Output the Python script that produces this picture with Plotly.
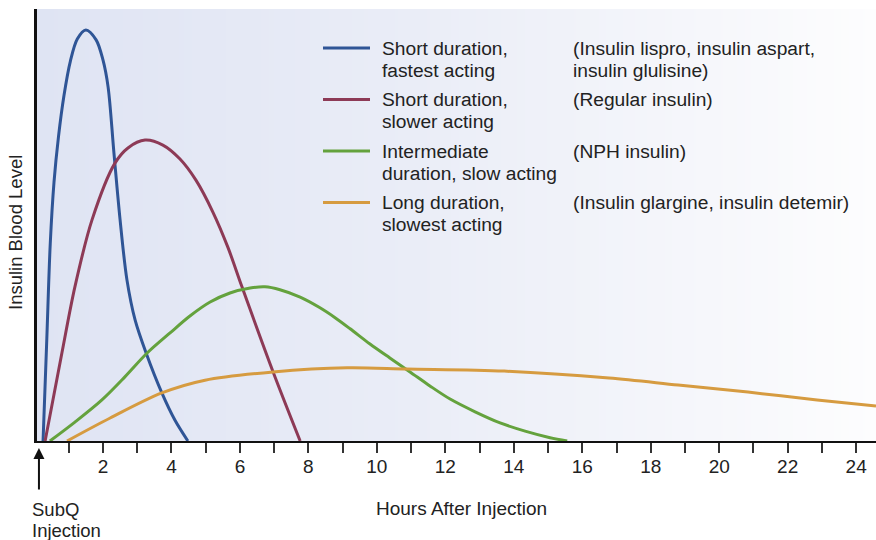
import numpy as np
import plotly.graph_objects as go

# Relative insulin blood level (peak of fastest-acting = 100) vs hours after injection
hours_fastest = [0.25, 0.36, 0.46, 0.57, 0.70, 0.86, 1.05, 1.25, 1.50, 1.80, 2.00, 2.15, 2.32, 2.50, 2.70, 2.94, 3.26, 3.72, 4.10, 4.48]
level_fastest = [0.0, 25.0, 48.0, 63.0, 74.0, 84.0, 92.5, 97.8, 100.0, 97.6, 92.7, 86.1, 70.1, 53.8, 39.2, 29.4, 21.4, 11.7, 5.1, 0.0]

hours_regular = [0.31, 0.80, 1.18, 1.68, 2.35, 2.73, 3.23, 3.75, 4.25, 4.72, 5.21, 5.65, 6.06, 6.97, 7.76]
level_regular = [0.0, 21.4, 37.5, 53.8, 67.6, 71.3, 73.2, 72.0, 68.6, 63.4, 55.7, 47.1, 37.5, 16.8, 0.0]

hours_nph = [0.45, 1.18, 1.97, 2.64, 3.29, 3.96, 4.54, 5.13, 5.71, 6.30, 6.73, 7.17, 7.76, 8.34, 8.78, 9.22,
             9.80, 10.38, 10.97, 11.55, 12.14, 12.87, 13.60, 14.33, 15.06, 15.56]
level_nph = [0.0, 4.6, 10.0, 15.6, 21.4, 26.3, 30.4, 33.8, 36.0, 37.2, 37.5, 36.8, 35.0, 32.4, 30.0, 27.3,
             23.6, 20.2, 16.8, 13.4, 10.2, 7.1, 4.4, 2.4, 0.8, 0.0]

hours_long = [0.95, 2.21, 3.72, 4.98, 6.97, 9.13, 10.88, 13.72, 16.78, 18.80, 20.84, 22.86, 24.58]
level_long = [0.0, 5.6, 11.7, 14.8, 16.8, 17.8, 17.5, 17.0, 15.3, 13.6, 11.9, 10.0, 8.5]

series_names = [
    ["Short duration,", "fastest acting"],
    ["Short duration,", "slower acting"],
    ["Intermediate", "duration, slow acting"],
    ["Long duration,", "slowest acting"],
]
series_examples = [
    ["(Insulin lispro, insulin aspart,", "insulin glulisine)"],
    ["(Regular insulin)"],
    ["(NPH insulin)"],
    ["(Insulin glargine, insulin detemir)"],
]
series_colors = ["#2f5596", "#8d3a56", "#64a23d", "#d69b40"]

tick_hours = list(range(1, 25))
tick_text = [str(h) if h % 2 == 0 else "" for h in tick_hours]

X_RANGE = [0.073, 24.58]
Y_RANGE = [0, 105.1]

W, H = 876, 540
M_L, M_R, M_T, M_B = 37, 0, 9, 99
PLOT_W = W - M_L - M_R
PLOT_H = H - M_T - M_B

FONT = "Liberation Sans, Arial, sans-serif"
TXT = "#222222"


def px_x(px):
    """Horizontal pixel position to paper coordinate."""
    return (px - M_L) / PLOT_W


def px_y(py):
    """Vertical pixel position (from top) to paper coordinate."""
    return (H - M_B - py) / PLOT_H


fig = go.Figure()

# soft lavender-to-white background wash
grad_x = np.linspace(X_RANGE[0], X_RANGE[1], 60)
fig.add_trace(go.Heatmap(
    x=grad_x, y=Y_RANGE, z=[grad_x, grad_x],
    colorscale=[[0, "#dfe4f3"], [0.45, "#eaedf7"], [0.8, "#f6f7fb"], [1, "#fdfdfe"]],
    showscale=False, hoverinfo="skip", zsmooth="best",
))

curves = [
    (hours_fastest, level_fastest),
    (hours_regular, level_regular),
    (hours_nph, level_nph),
    (hours_long, level_long),
]
for (hx, ly), name, color in zip(curves, series_names, series_colors):
    fig.add_trace(go.Scatter(
        x=hx, y=ly, mode="lines", name=" ".join(name),
        line=dict(color=color, width=3, shape="spline", smoothing=0.9),
        showlegend=False, hoverinfo="skip",
    ))

# legend block: key line, description, example insulins
ROW_Y0, ROW_STEP, LINE_STEP = 48, 51.5, 22
for i, (name, example, color) in enumerate(zip(series_names, series_examples, series_colors)):
    ry = ROW_Y0 + i * ROW_STEP
    fig.add_shape(type="line", xref="paper", yref="paper",
                  x0=px_x(323), x1=px_x(370), y0=px_y(ry), y1=px_y(ry),
                  line=dict(color=color, width=3))
    for col_px, lines in ((380, name), (571, example)):
        for j, line_text in enumerate(lines):
            fig.add_annotation(xref="paper", yref="paper",
                               x=px_x(col_px), y=px_y(ry + j * LINE_STEP),
                               text=line_text, showarrow=False,
                               xanchor="left", yanchor="middle",
                               font=dict(family=FONT, size=19.2, color=TXT))

# axis titles
fig.add_annotation(xref="paper", yref="paper", x=px_x(15), y=px_y(233),
                   xanchor="center", yanchor="middle",
                   text="Insulin Blood Level", textangle=-90, showarrow=False,
                   font=dict(family=FONT, size=18.5, color=TXT))
fig.add_annotation(xref="paper", yref="paper", x=px_x(461), y=px_y(508),
                   xanchor="center", yanchor="middle",
                   text="Hours After Injection", showarrow=False,
                   font=dict(family=FONT, size=19, color=TXT))
for j, word in enumerate(["SubQ", "Injection"]):
    fig.add_annotation(xref="paper", yref="paper", x=px_x(30), y=px_y(509 + j * 21),
                       xanchor="left", yanchor="middle",
                       text=word, showarrow=False,
                       font=dict(family=FONT, size=18.5, color=TXT))

# injection-time arrow below the axis
fig.add_annotation(xref="x", yref="paper", x=0.13, y=px_y(448),
                   ax=0, ay=43, text="", showarrow=True,
                   arrowhead=2, arrowsize=1.1, arrowwidth=2, arrowcolor="#111111")

fig.update_xaxes(
    range=X_RANGE, showgrid=False, zeroline=False,
    showline=True, linecolor="#111111", linewidth=2,
    tickmode="array", tickvals=tick_hours, ticktext=tick_text,
    ticks="outside", ticklen=10, tickwidth=1.5, tickcolor="#333333",
    ticklabelstandoff=-3,
    tickfont=dict(family=FONT, size=19, color=TXT),
)
fig.update_yaxes(
    range=Y_RANGE, showgrid=False, zeroline=False,
    showline=True, linecolor="#111111", linewidth=2.5,
    showticklabels=False, ticks="",
)
fig.update_layout(
    width=W, height=H,
    margin=dict(l=M_L, r=M_R, t=M_T, b=M_B),
    paper_bgcolor="white", plot_bgcolor="white",
    showlegend=False,
)

fig.write_html("out.html")
